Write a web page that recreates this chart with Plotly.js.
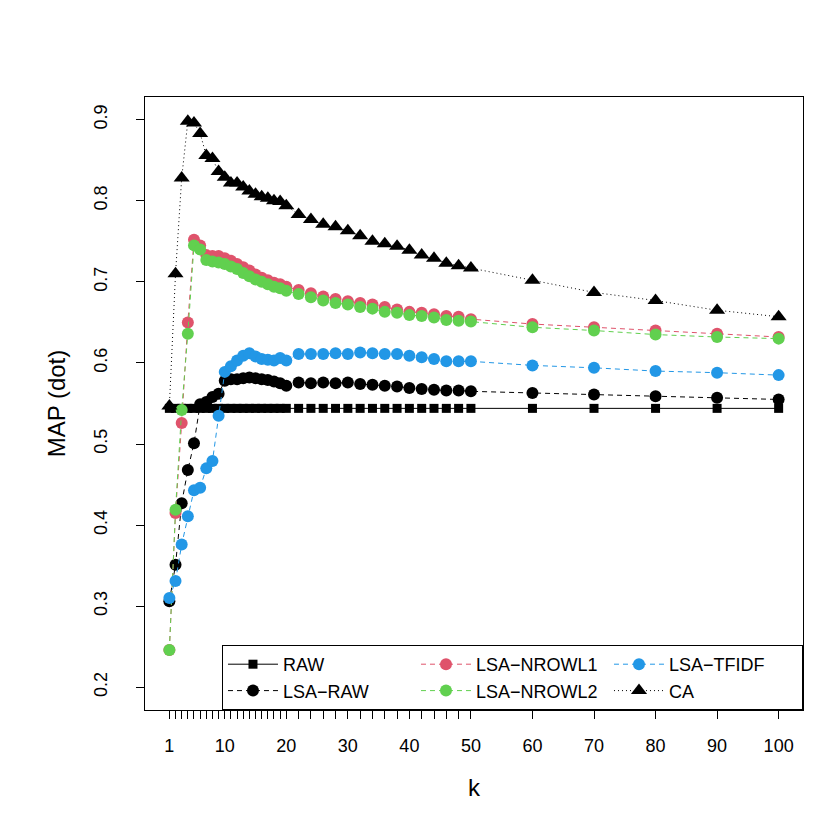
<!DOCTYPE html>
<html>
<head>
<meta charset="utf-8">
<script src="https://cdn.plot.ly/plotly-3.0.1.min.js"></script>
<style>html,body{margin:0;padding:0;background:#fff;}#chart{width:830px;height:830px;}</style>
</head>
<body>
<div id="chart"></div>
<script>
// k values
const k = [1,2,3,4,5,6,7,8,9,10,11,12,13,14,15,16,17,18,19,20,
  22,24,26,28,30,32,34,36,38,40,42,44,46,48,50,
  60,70,80,90,100];

const raw = [0.544,0.544,0.544,0.544,0.544,0.544,0.544,0.544,0.544,0.544,0.544,0.544,0.544,0.544,0.544,0.544,0.544,0.544,0.544,0.544,
  0.544,0.544,0.544,0.544,0.544,0.544,0.544,0.544,0.544,0.544,0.544,0.544,0.544,0.544,0.544,
  0.544,0.544,0.544,0.544,0.544];

const lsaRaw = [0.306,0.351,0.427,0.468,0.501,0.549,0.552,0.558,0.562,0.578,0.580,0.580,0.581,0.582,0.581,0.580,0.579,0.577,0.575,0.572,
  0.576,0.575,0.576,0.575,0.576,0.574,0.573,0.572,0.571,0.569,0.568,0.567,0.566,0.566,0.565,
  0.563,0.561,0.559,0.557,0.555];

const lsaNrowl1 = [0.246,0.415,0.526,0.650,0.752,0.745,0.733,0.732,0.732,0.729,0.726,0.722,0.718,0.714,0.709,0.705,0.702,0.699,0.697,0.694,
  0.690,0.686,0.682,0.679,0.676,0.674,0.672,0.669,0.666,0.663,0.662,0.660,0.658,0.657,0.654,
  0.648,0.644,0.640,0.636,0.632];

const lsaNrowl2 = [0.246,0.419,0.542,0.636,0.745,0.740,0.727,0.725,0.724,0.722,0.719,0.716,0.711,0.707,0.703,0.700,0.697,0.694,0.692,0.689,
  0.685,0.681,0.677,0.674,0.672,0.669,0.667,0.663,0.662,0.659,0.658,0.656,0.653,0.652,0.651,
  0.644,0.640,0.635,0.632,0.630];

const lsaTfidf = [0.310,0.331,0.376,0.411,0.443,0.446,0.470,0.479,0.535,0.589,0.596,0.603,0.609,0.612,0.608,0.605,0.604,0.603,0.606,0.603,
  0.611,0.611,0.611,0.612,0.611,0.613,0.612,0.611,0.611,0.609,0.607,0.605,0.602,0.602,0.602,
  0.597,0.594,0.590,0.588,0.585];

const ca = [0.547,0.710,0.828,0.898,0.896,0.883,0.856,0.852,0.836,0.829,0.822,0.822,0.817,0.812,0.808,0.805,0.803,0.800,0.799,0.794,
  0.783,0.777,0.771,0.768,0.763,0.757,0.750,0.747,0.744,0.739,0.733,0.729,0.723,0.720,0.717,
  0.702,0.687,0.677,0.665,0.657];

const xLabelled = [1,10,20,30,40,50,60,70,80,90,100];
const yTicks = [0.2,0.3,0.4,0.5,0.6,0.7,0.8,0.9];
const yTickText = ['0.2','0.3','0.4','0.5','0.6','0.7','0.8','0.9'];

const DASH = '5px,4px';
const DOT = '1px,3px';

function tr(name, y, color, dash, symbol, size, rank) {
  return {
    x: k, y: y, name: name, type: 'scatter', mode: 'lines+markers',
    line: {color: color, width: 1, dash: dash},
    marker: {color: color, symbol: symbol, size: size, line: {width: 0}},
    legendrank: rank
  };
}

const data = [
  tr('RAW', raw, '#000000', 'solid', 'square', 9, 1),
  tr('LSA\u2212RAW', lsaRaw, '#000000', DASH, 'circle', 12, 4),
  tr('LSA\u2212NROWL1', lsaNrowl1, '#DF536B', DASH, 'circle', 12, 2),
  tr('LSA\u2212NROWL2', lsaNrowl2, '#61D04F', DASH, 'circle', 12, 5),
  tr('LSA\u2212TFIDF', lsaTfidf, '#2297E6', DASH, 'circle', 12, 3),
  tr('CA', ca, '#000000', DOT, 'triangle-up', 14, 6)
];

const layout = {
  width: 830, height: 830,
  margin: {l: 145, r: 27, t: 97, b: 120},
  paper_bgcolor: '#fff', plot_bgcolor: '#fff',
  font: {family: 'Liberation Sans, Arial, sans-serif', size: 18, color: '#000'},
  showlegend: true,
  legend: {
    orientation: 'h', x: 0.117, xanchor: 'left', y: 0, yanchor: 'bottom',
    entrywidth: 128, bordercolor: '#000', borderwidth: 1, bgcolor: '#fff',
    font: {size: 18}, itemwidth: 50, traceorder: 'normal'
  },
  xaxis: {
    range: [-2.96, 103.96], showgrid: false, zeroline: false,
    tickmode: 'array', tickvals: k,
    ticktext: k.map(v => xLabelled.includes(v) ? String(v) : ''),
    ticks: 'outside', ticklen: 8, tickcolor: '#000', tickwidth: 1,
    showline: true, linecolor: '#000', linewidth: 1, mirror: true,
    ticklabelstandoff: 11,
    tickfont: {size: 18},
    title: {text: 'k', font: {size: 24}, standoff: 24}
  },
  yaxis: {
    range: [0.172, 0.928], showgrid: false, zeroline: false,
    tickmode: 'array', tickvals: yTicks, ticktext: yTickText, tickangle: -90,
    ticks: 'outside', ticklen: 8, tickcolor: '#000', tickwidth: 1,
    showline: true, linecolor: '#000', linewidth: 1, mirror: true,
    ticklabelstandoff: 22,
    tickfont: {size: 18},
    title: {text: 'MAP (dot)', font: {size: 24}, standoff: 18}
  }
};

Plotly.newPlot('chart', data, layout, {staticPlot: true, displayModeBar: false});
</script>
</body>
</html>
